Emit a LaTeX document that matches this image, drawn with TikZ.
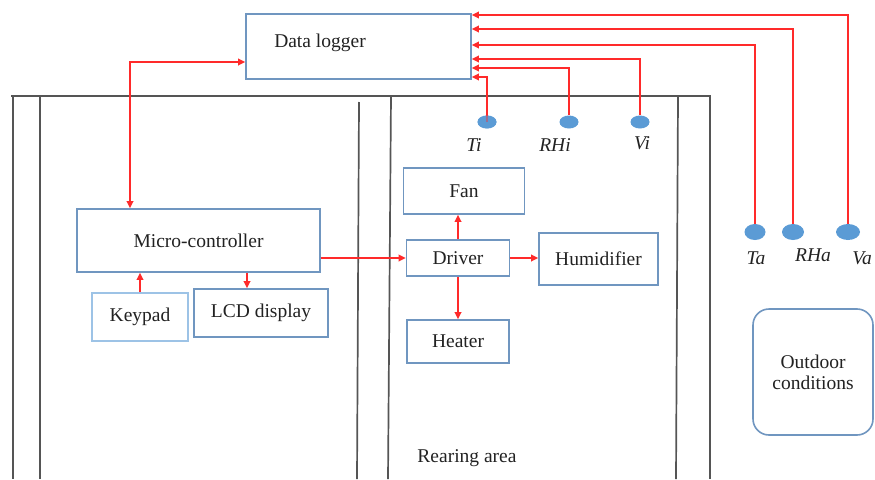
\documentclass[tikz,border=0pt]{standalone}
\usepackage{fontspec}
\setmainfont{Liberation Serif}
\usetikzlibrary{arrows.meta,calc,shapes.geometric}
\definecolor{boxblue}{HTML}{7096C0}
\definecolor{keyblue}{HTML}{9DC3E6}
\definecolor{sensor}{HTML}{5B9BD5}
\definecolor{wire}{HTML}{FF2A2A}
\definecolor{wall}{HTML}{555555}
\definecolor{ink}{HTML}{222222}
\tikzset{
  unit/.style={draw=boxblue, line width=1.6pt, fill=white, inner sep=0pt,
    font=\fontsize{19.5}{22}\selectfont, text=ink},
  label text/.style={font=\fontsize{19.5}{22}\selectfont, text=ink, inner sep=0pt},
  tag/.style={font=\fontsize{19.5}{22}\selectfont\itshape, text=ink, inner sep=0pt},
  probe/.style={ellipse, fill=sensor, draw=none, inner sep=0pt},
  signal/.style={draw=wire, line width=1.8pt, -{Triangle[length=7pt,width=6.5pt]}},
  both signal/.style={draw=wire, line width=1.8pt,
    {Triangle[length=7pt,width=6.5pt]}-{Triangle[length=7pt,width=6.5pt]}},
  partition/.style={draw=wall, line width=1.7pt},
}
\begin{document}
\begin{tikzpicture}[x=1pt,y=-1pt]
\useasboundingbox (0,0) rectangle (875,479);

% enclosure walls
\draw[partition] (11,96) -- (711,96);
\draw[partition] (13,96) -- (13,479);
\draw[partition] (40,96) -- (40,479);
\draw[partition] (359,102) -- (357,479);
\draw[partition] (391,96) -- (388,479);
\draw[partition] (678,97) -- (676,479);
\draw[partition] (710,96) -- (710,479);

% units
\node[unit, minimum width=225pt, minimum height=65pt] (dl) at (358.5,46.5) {};
\node[label text] (dltext) at (320,43) {Data logger};
\node[unit, minimum width=243pt, minimum height=63pt] (mc) at (198.5,240.5) {Micro-controller};
\node[unit, draw=keyblue, minimum width=96pt, minimum height=48pt] (kp) at (140,317) {Keypad};
\node[unit, minimum width=134pt, minimum height=48pt] (lcd) at (261,313) {LCD display};
\node[unit, minimum width=103pt, minimum height=36pt] (drv) at (458,258) {Driver};
\node[unit, minimum width=121pt, minimum height=46pt] (fan) at (464,191) {Fan};
\node[unit, minimum width=119pt, minimum height=52pt] (hum) at (598.5,259) {Humidifier};
\node[unit, minimum width=102pt, minimum height=43pt] (heat) at (458,341.5) {Heater};
\node[unit, rounded corners=16pt, minimum width=120pt, minimum height=126pt,
      align=center, font=\fontsize{19.5}{21}\selectfont] (out) at (813,372) {Outdoor\\conditions};
\node[label text] (rear) at (467,458) {Rearing area};

% sensors
\node[probe, minimum width=19pt, minimum height=13pt] (ti) at (487,122) {};
\node[probe, minimum width=19pt, minimum height=13pt] (rhi) at (569,122) {};
\node[probe, minimum width=19pt, minimum height=13pt] (vi) at (640,122) {};
\node[probe, minimum width=21pt, minimum height=16pt] (ta) at (755,232) {};
\node[probe, minimum width=22pt, minimum height=16pt] (rha) at (793,232) {};
\node[probe, minimum width=24pt, minimum height=16pt] (va) at (848,232) {};
\node[tag] (tit) at (474,145) {Ti};
\node[tag] (rhit) at (555,145) {RHi};
\node[tag] (vit) at (642,143) {Vi};
\node[tag] (tat) at (756,258) {Ta};
\node[tag] (rhat) at (813,255) {RHa};
\node[tag] (vat) at (862,258) {Va};

% sensor lines into the data logger
\draw[signal] (va.north) |- ([yshift=31.5pt]dl.east);
\draw[signal] (rha.north) |- ([yshift=17.5pt]dl.east);
\draw[signal] (ta.north) |- ([yshift=1.5pt]dl.east);
\draw[signal] (vi.north) |- ([yshift=-12.5pt]dl.east);
\draw[signal] (rhi.north) |- ([yshift=-21.5pt]dl.east);
\draw[signal] (ti.center) |- ([yshift=-30.5pt]dl.east);
\node[probe, minimum width=19pt, minimum height=13pt, fill opacity=0.6] at (ti) {};

% data logger <-> micro-controller
\coordinate (bend) at (130,62);
\draw[both signal] ([yshift=-15.5pt]dl.west) -- (bend) -- (bend |- mc.north);

% control connections
\draw[signal] (kp.north) -- (kp.north |- mc.south);
\draw[signal] ([xshift=-14pt]lcd.north |- mc.south) -- ([xshift=-14pt]lcd.north);
\draw[signal] (mc.east |- drv.west) -- (drv.west);
\draw[signal] (drv.north) -- (drv.north |- fan.south);
\draw[signal] (drv.east) -- (drv.east -| hum.west);
\draw[signal] (drv.south) -- (drv.south |- heat.north);
\end{tikzpicture}
\end{document}
